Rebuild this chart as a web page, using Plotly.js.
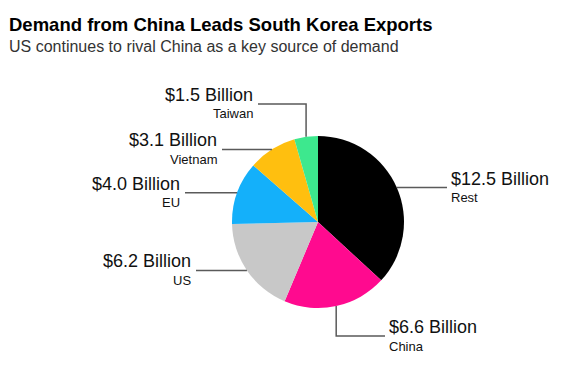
<!DOCTYPE html>
<html>
<head>
<meta charset="utf-8">
<script src="https://cdn.plot.ly/plotly-3.0.1.min.js"></script>
<style>html,body{margin:0;padding:0;background:#fff;}#chart{width:576px;height:370px;}</style>
</head>
<body>
<div id="chart"></div>
<script>
// ---- data ----
var categories = ["Rest", "China", "US", "EU", "Vietnam", "Taiwan"];
var values = [12.5, 6.6, 6.2, 4.0, 3.1, 1.5];
var valueLabels = ["$12.5 Billion", "$6.6 Billion", "$6.2 Billion", "$4.0 Billion", "$3.1 Billion", "$1.5 Billion"];
var colors = ["#000000", "#ff0a8f", "#c8c8c8", "#14b0fa", "#ffbf0f", "#3de88e"];

// ---- layout config (pixels) ----
var W = 576, H = 370;
var CX = 318, CY = 222, R = 86;
// leader-line routing per slice: type 'h' = horizontal to endX; 'v' = vertical to elbowY then horizontal to endX
var routes = [
  {type: 'h', endX: 447, side: 'right'},
  {type: 'v', elbowY: 336, endX: 385, side: 'right'},
  {type: 'h', endX: 196, side: 'left'},
  {type: 'h', endX: 185, side: 'left'},
  {type: 'h', endX: 222, side: 'left'},
  {type: 'v', elbowY: 104, endX: 258, side: 'left'}
];

function px(x) { return x / W; }
function py(y) { return 1 - y / H; }

var total = values.reduce(function (a, b) { return a + b; }, 0);
var shapes = [], annotations = [];
var cum = 0;
values.forEach(function (v, i) {
  var mid = (cum + v / 2) / total * 2 * Math.PI; // clockwise from 12 o'clock
  cum += v;
  var ex = CX + R * Math.sin(mid), ey = CY - R * Math.cos(mid);
  var rt = routes[i];
  var lineY;
  var lineStyle = {color: '#5a5a5a', width: 1.5};
  if (rt.type === 'h') {
    lineY = ey;
    shapes.push({type: 'line', xref: 'paper', yref: 'paper', x0: px(ex), y0: py(ey), x1: px(rt.endX), y1: py(ey), line: lineStyle});
  } else {
    lineY = rt.elbowY;
    shapes.push({type: 'path', xref: 'paper', yref: 'paper',
      path: 'M' + px(ex) + ',' + py(ey) + ' L' + px(ex) + ',' + py(rt.elbowY) + ' L' + px(rt.endX) + ',' + py(rt.elbowY),
      line: lineStyle});
  }
  var tx = rt.side === 'left' ? rt.endX - 3 : rt.endX + 2;
  var xa = rt.side === 'left' ? 'right' : 'left';
  annotations.push({xref: 'paper', yref: 'paper', x: px(tx), y: py(lineY - 9), xanchor: xa, yanchor: 'middle',
    text: valueLabels[i], showarrow: false, font: {family: 'Liberation Sans, Arial, sans-serif', size: 18, color: '#111111'}});
  annotations.push({xref: 'paper', yref: 'paper', x: px(tx), y: py(lineY + 10), xanchor: xa, yanchor: 'middle',
    text: categories[i], showarrow: false, font: {family: 'Liberation Sans, Arial, sans-serif', size: 13, color: '#111111'}});
});

annotations.push({xref: 'paper', yref: 'paper', x: px(7), y: py(25), xanchor: 'left', yanchor: 'middle',
  text: '<b>Demand from China Leads South Korea Exports</b>', showarrow: false,
  font: {family: 'Liberation Sans, Arial, sans-serif', size: 18.5, color: '#000000'}});
annotations.push({xref: 'paper', yref: 'paper', x: px(7), y: py(46.5), xanchor: 'left', yanchor: 'middle',
  text: 'US continues to rival China as a key source of demand', showarrow: false,
  font: {family: 'Liberation Sans, Arial, sans-serif', size: 16, color: '#333333'}});

var trace = {
  type: 'pie',
  labels: categories,
  values: values,
  sort: false,
  direction: 'clockwise',
  rotation: 0,
  marker: {colors: colors, line: {width: 0}},
  textinfo: 'none',
  hoverinfo: 'none',
  showlegend: false,
  domain: {x: [px(CX - R), px(CX + R)], y: [py(CY + R), py(CY - R)]}
};

var layout = {
  width: W, height: H,
  margin: {l: 0, r: 0, t: 0, b: 0},
  paper_bgcolor: '#ffffff',
  showlegend: false,
  shapes: shapes,
  annotations: annotations
};

Plotly.newPlot('chart', [trace], layout, {displayModeBar: false, staticPlot: true});
</script>
</body>
</html>
